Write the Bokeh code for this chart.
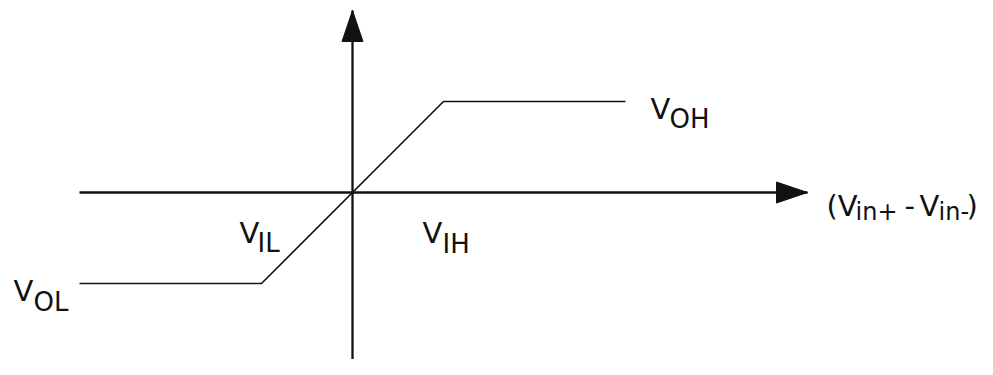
from bokeh.plotting import figure
from bokeh.models import ColumnDataSource, Range1d
from bokeh.embed import file_html
from bokeh.resources import INLINE
from bokeh.core.properties import value

# ---- data (normalised units: VIL/VIH = -1/+1, VOL/VOH = -1/+1) ----
vin_diff = [-3.0, -1.0, 1.0, 3.0]      # input (Vin+ - Vin-)
vout = [-1.0, -1.0, 1.0, 1.0]          # output: VOL ... VOH
x_axis_span = [-3.0, 5.0]              # horizontal axis extent
y_axis_span = [-1.83, 2.0]             # vertical axis extent

level_main = ["V", "V", "V", "V"]
level_sub = ["OL", "IL", "IH", "OH"]
axis_title_main = ["(V", "-", "V", ")"]
axis_title_sub = ["in+", "in-"]

FONT = value("DejaVu Sans")
INK = "#111111"
PX = 91.0  # pixels per unit

W, H = 977, 359
x0 = -352 / PX
y1 = 192 / PX
p = figure(width=W, height=H, output_backend="svg", toolbar_location=None,
           x_range=Range1d(x0, x0 + W / PX), y_range=Range1d(y1 - H / PX, y1),
           x_axis_location=None, y_axis_location=None, min_border=0,
           outline_line_color=None, background_fill_color="white",
           border_fill_color="white")
p.grid.visible = False

# axes
p.line(x=x_axis_span, y=[0, 0], line_color=INK, line_width=2.3)
p.line(x=[0, 0], y=y_axis_span, line_color=INK, line_width=2.3)

# arrow heads (computed from axis ends)
hl, hw = 31 / PX, 10.5 / PX
xe, ye = x_axis_span[1], y_axis_span[1]
p.patches(xs=[[xe, xe - hl, xe - hl], [0, -hw, hw]],
          ys=[[0, hw, -hw], [ye, ye - hl, ye - hl]],
          fill_color=INK, line_color=INK, line_width=1)

# transfer characteristic
p.line(x=vin_diff, y=vout, line_color=INK, line_width=1.6)

# level labels, anchored to characteristic points
anchor_x = [vin_diff[0], vin_diff[1], vin_diff[2], vin_diff[3]]
anchor_y = [vout[0], 0.0, 0.0, vout[3]]
main_dx = [-66, -22, -21, 25]
main_dy = [7, 40, 40, 7]
sub_dx = [-46, -4, -1, 44]
sub_dy = [18, 50, 51, 17]

src_main = ColumnDataSource(dict(x=anchor_x, y=anchor_y, t=level_main,
                                 dx=main_dx, dy=main_dy))
src_sub = ColumnDataSource(dict(x=anchor_x, y=anchor_y, t=level_sub,
                                dx=sub_dx, dy=sub_dy))
p.text(x="x", y="y", text="t", x_offset="dx", y_offset="dy", source=src_main,
       text_font=FONT, text_font_size="29px", text_color=INK,
       text_align="left", text_baseline="alphabetic")
p.text(x="x", y="y", text="t", x_offset="dx", y_offset="dy", source=src_sub,
       text_font=FONT, text_font_size="26px", text_color=INK,
       text_align="left", text_baseline="alphabetic")

# axis title (Vin+ - Vin-)
src_t_main = ColumnDataSource(dict(x=[xe] * 4, y=[0] * 4, t=axis_title_main,
                                   dx=[19, 97, 112, 159], dy=[13, 13, 13, 13]))
src_t_sub = ColumnDataSource(dict(x=[xe] * 2, y=[0] * 2, t=axis_title_sub,
                                  dx=[48, 131], dy=[19, 19]))
p.text(x="x", y="y", text="t", x_offset="dx", y_offset="dy", source=src_t_main,
       text_font=FONT, text_font_size="29px", text_color=INK,
       text_align="left", text_baseline="alphabetic")
p.text(x="x", y="y", text="t", x_offset="dx", y_offset="dy", source=src_t_sub,
       text_font=FONT, text_font_size="24px", text_color=INK,
       text_align="left", text_baseline="alphabetic")

open("out.html", "w").write(file_html(p, INLINE))
